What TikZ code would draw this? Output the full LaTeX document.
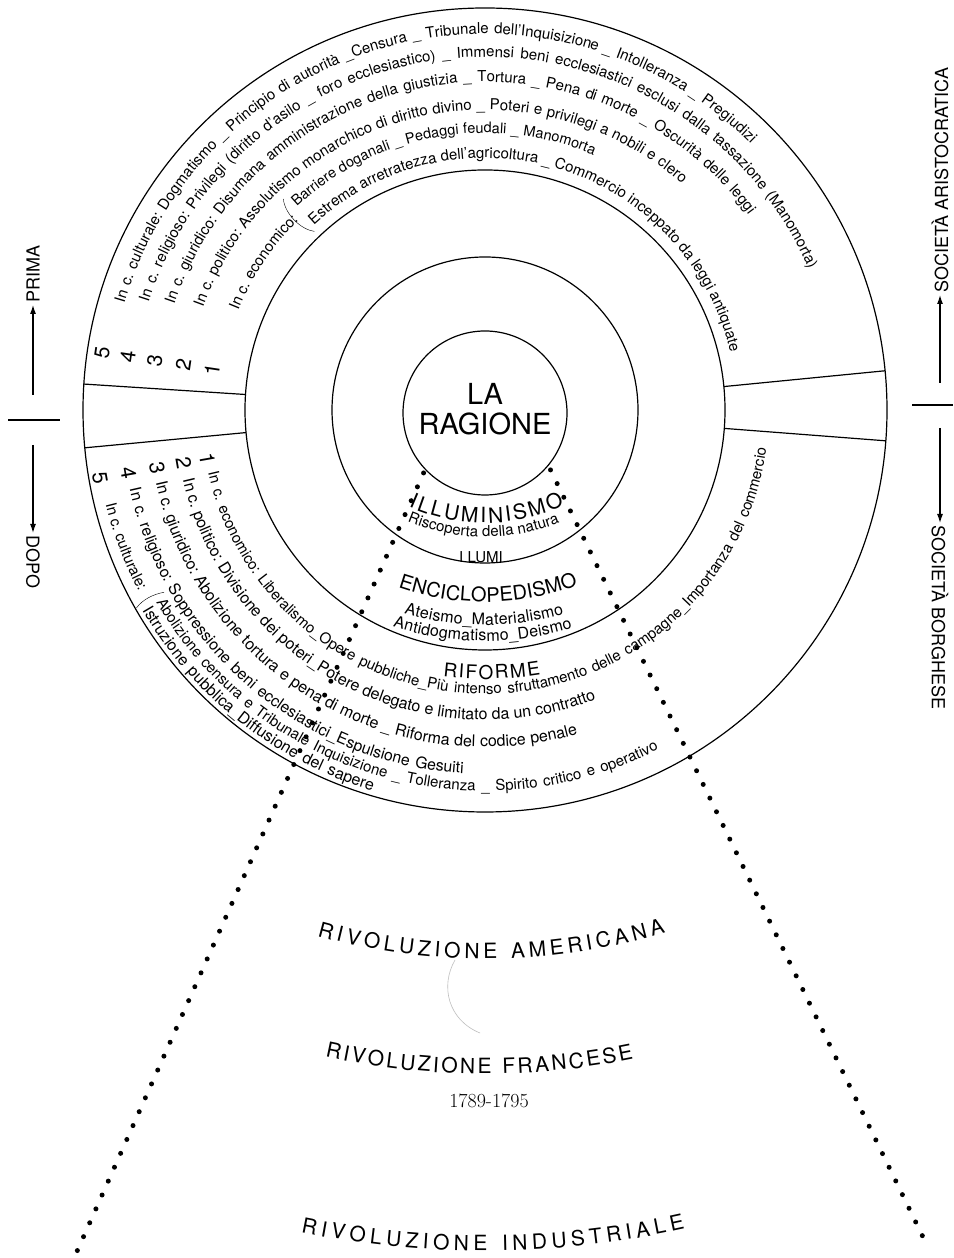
\documentclass[tikz,border=0pt]{standalone}
\usepackage{fontspec}
\setsansfont{TeX Gyre Heros}
\usetikzlibrary{arrows.meta,decorations.text}

\newcommand{\upfont}{\sffamily\fontsize{15}{15}\selectfont}
\newcommand{\tightfont}{\sffamily\fontsize{14.5}{15}\selectfont}
\newcommand{\midrowfont}{\sffamily\fontsize{15.8}{16}\selectfont}
\newcommand{\lowfont}{\sffamily\fontsize{16}{16}\selectfont}
\newcommand{\capfont}{\sffamily\fontsize{19}{19}\selectfont}
\newcommand{\illfont}{\sffamily\fontsize{21}{21}\selectfont}
\newcommand{\encfont}{\sffamily\fontsize{20}{20}\selectfont}
\newcommand{\revfont}{\sffamily\fontsize{21}{21}\selectfont}
\newcommand{\smallfont}{\sffamily\fontsize{16}{16}\selectfont}

\begin{document}
\begin{tikzpicture}[x=1pt,y=1pt,>={Latex[length=9pt,width=6pt]}]
%\draw [help lines,step=50] (0,0) grid (953,1258);
\tikzset{
  ring/.style={line width=1.2pt},
  rownum/.style={font=\sffamily\fontsize{21}{21}\selectfont, inner sep=0pt},
  sidelbl/.style={font=\sffamily\fontsize{18}{18}\selectfont, inner sep=2pt},
  dotline/.style={line width=5pt, line cap=round, dash pattern=on 0pt off 15.2pt},
  row/.style 2 args={decorate, decoration={text along path,
      text={|#1|#2}, text align={fit to path stretching spaces}}},
  rowhead/.style 2 args={decorate, decoration={text along path,
      text={|#1|#2}, text align=left}},
  spaced/.style 2 args={decorate, decoration={text along path,
      text={|#1|#2}, text align={fit to path}}},
}
\fill[white] (0,0) rectangle (953,1258);
\useasboundingbox (0,0) rectangle (953,1258);

\coordinate (C) at (485,848);
\coordinate (V) at (485,923);

% the four rings
\draw[ring] (C) circle[radius=402];
\draw[ring] (C) circle[radius=240];
\draw[ring] (C) circle[radius=153];
\draw[ring] (485,845) circle[radius=82];

\node (ragione) [font=\sffamily\fontsize{29}{30}\selectfont, align=center] at (485,849) {LA\\RAGIONE};

\begin{scope}[shift={(C)}]
% separators
\draw[ring] (176.3:240) -- (176.3:402);
\draw[ring] (185.4:240) -- (185.4:402);
\draw[ring] (5.6:240) -- (5.6:402);
\draw[ring] (-4.4:240) -- (-4.4:402);

% prima
\node (u5) [rownum, rotate=81.5] at (171.5:387) {5};
\node (u4) [rownum, rotate=81.5] at (171.5:361) {4};
\node (u3) [rownum, rotate=81.5] at (171.5:334) {3};
\node (u2) [rownum, rotate=81.5] at (171.5:305) {2};
\node (u1) [rownum, rotate=81.5] at (171.5:276) {1};

\path[row={\upfont}{In c. culturale: Dogmatismo {\_} Principio di autorità {\_}Censura {\_} Tribunale dell'Inquisizione {\_} Intolleranza {\_} Pregiudizi}]
  (163.5:376) arc[start angle=163.5, end angle=45, radius=376];
\path[row={\upfont}{In c. religioso: Privilegi (diritto d'asilo {\_} foro ecclesiastico) {\_} Immensi beni ecclesiastici esclusi dalla tassazione (Manomorta)}]
  (162.3:353) arc[start angle=162.3, end angle=23.5, radius=353];
\path[row={\upfont}{In c. giuridico: Disumana amministrazione della giustizia {\_} Tortura {\_} Pena di morte {\_} Oscurità delle leggi}]
  (161.3:328) arc[start angle=161.3, end angle=36.5, radius=328];
\path[row={\upfont}{In c. politico: Assolutismo monarchico di diritto divino {\_} Poteri e privilegi a nobili e clero}]
  (160:300) arc[start angle=160, end angle=49, radius=300];
\path[rowhead={\upfont}{In c. economico:}]
  (158:266) arc[start angle=158, end angle=120, radius=266];
\draw (133.7:292) .. controls (135.6:280) and (135.6:258) .. (133.7:247);
\path[row={\tightfont}{Barriere doganali {\_} Pedaggi feudali {\_} Manomorta}]
  (132.8:277) arc[start angle=132.8, end angle=67, radius=277];
\path[row={\upfont}{Estrema arretratezza dell'agricoltura {\_} Commercio inceppato da leggi antiquate}]
  (132.8:252) arc[start angle=132.8, end angle=13.9, radius=252];

% dopo
\node (d1) [rownum, rotate=-80] at (190:282) {1};
\node (d2) [rownum, rotate=-80] at (190:306) {2};
\node (d3) [rownum, rotate=-80] at (190:333) {3};
\node (d4) [rownum, rotate=-80] at (190:362) {4};
\node (d5) [rownum, rotate=-80] at (190:391) {5};

\path[row={\upfont}{In c. economico: Liberalismo{\_}Opere pubbliche{\_}Più intenso sfruttamento delle campagne{\_}Importanza del commercio}]
  (192.8:284) arc[start angle=192.8, end angle=352.2, radius=284];
\path[row={\lowfont}{In c. politico: Divisione dei poteri{\_}Potere delegato e limitato da un contratto}]
  (193:310) arc[start angle=193, end angle=291, radius=310];
\path[row={\lowfont}{In c. giuridico: Abolizione tortura e pena di morte {\_} Riforma del codice penale}]
  (192.4:337) arc[start angle=192.4, end angle=286, radius=337];
\path[row={\midrowfont}{In c. religioso: Soppressione beni ecclesiastici{\_}Espulsione Gesuiti}]
  (192.5:364) arc[start angle=192.5, end angle=266.5, radius=364];
\path[rowhead={\upfont}{In c. culturale:}]
  (194:391) arc[start angle=194, end angle=230, radius=391];
\draw (209.6:369) .. controls (209:380) and (209:392) .. (209.6:401);
\path[row={\upfont}{Abolizione censura e Tribunale Inquisizione {\_} Tolleranza {\_} Spirito critico e operativo}]
  (210.3:381) arc[start angle=210.3, end angle=297, radius=381];
\path[row={\lowfont}{Istruzione pubblica{\_}Diffusione del sapere}]
  (210.3:397) arc[start angle=210.3, end angle=253.5, radius=397];
\end{scope}

\begin{scope}[shift={(V)}]
% labels of the inner bands
\path[spaced={\illfont}{ILLUMINISMO}]
  (246:188) arc[start angle=246, end angle=295, radius=188];
\path[spaced={\upfont}{Riscoperta della natura}]
  (247.4:202) arc[start angle=247.4, end angle=291.7, radius=202];
\path[spaced={\encfont}{ENCICLOPEDISMO}]
  (251:267) arc[start angle=251, end angle=290.4, radius=267];
\path[spaced={\smallfont}{Ateismo{\_}Materialismo}]
  (253.8:290) arc[start angle=253.8, end angle=285.8, radius=290];
\path[spaced={\smallfont}{Antidogmatismo{\_}Deismo}]
  (252.5:306) arc[start angle=252.5, end angle=286.6, radius=306];
\path[spaced={\capfont}{RIFORME}]
  (263:344) arc[start angle=263, end angle=279.3, radius=344];
% revolutions
\path[spaced={\revfont}{RIVOLUZIONE AMERICANA}]
  (254.4:624) arc[start angle=254.4, end angle=286.8, radius=624];
\path[spaced={\revfont}{RIVOLUZIONE FRANCESE}]
  (257.5:739) arc[start angle=257.5, end angle=281.6, radius=739];
\path[spaced={\revfont}{RIVOLUZIONE INDUSTRIALE}]
  (258.4:916) arc[start angle=258.4, end angle=282.6, radius=916];
% dotted rays
\coordinate (dL1) at (246:151);
\coordinate (dL2) at (246:1003);
\coordinate (dR1) at (295.9:150);
\coordinate (dR2) at (295.9:1002);
\end{scope}

\node (lumi) [font=\upfont] at (481,701) {I LUMI};
\node (anni) [font=\rmfamily\fontsize{20}{20}\selectfont] at (489,157) {1789-1795};

\draw[dotline] (dL1) -- (dL2);
\draw[dotline] (dR1) -- (dR2);
\draw[gray!50, line width=0.6pt] (455,298) .. controls (440,272) and (448,238) .. (480,225);

% prima / dopo
\coordinate (pS) at (33,863);
\node (prima) [sidelbl, rotate=90, anchor=west] at (33,953) {PRIMA};
\draw[->, line width=1.2pt] (pS) -- (prima.west);
\coordinate (dS) at (33,813);
\node (dopo) [sidelbl, rotate=-90, anchor=west] at (33,725) {DOPO};
\draw[->, line width=1.2pt] (dS) -- (dopo.west);
\draw[line width=1.2pt] (8,838) -- (60,838);

% the two societies
\coordinate (aS) at (940,875);
\node (arist) [sidelbl, rotate=90, anchor=west] at (940,963) {SOCIETÀ ARISTOCRATICA};
\draw[->, line width=1.2pt] (aS) -- (arist.west);
\coordinate (bS) at (940,830);
\node (borg) [sidelbl, rotate=-90, anchor=west] at (940,735) {SOCIETÀ BORGHESE};
\draw[->, line width=1.2pt] (bS) -- (borg.west);
\draw[line width=1.2pt] (912,853) -- (953,853);
\end{tikzpicture}
\end{document}
